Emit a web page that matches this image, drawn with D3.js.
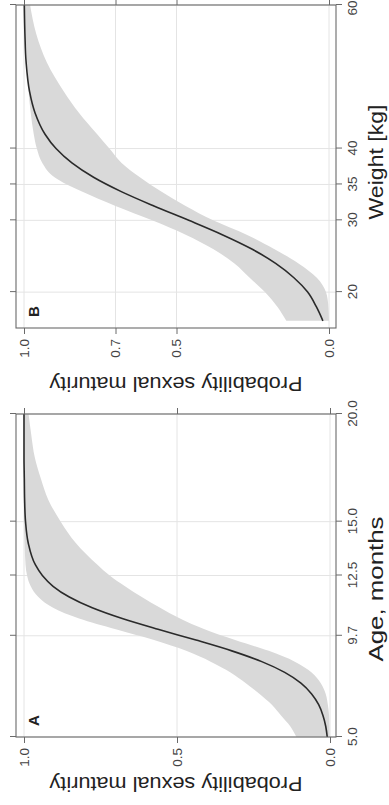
<!DOCTYPE html>
<html>
<head>
<meta charset="utf-8">
<script src="https://cdn.jsdelivr.net/npm/d3@7"></script>
<style>
  body { margin: 0; background: #fff; }
  svg { display: block; font-family: "Liberation Sans", Arial, sans-serif; }
</style>
</head>
<body>
<svg id="chart" width="389" height="805"></svg>
<script>
// Panel A: age in months
const ageValues = [5, 5.5, 6, 6.5, 7, 7.5, 8, 8.5, 9, 9.5, 10, 10.5, 11, 11.5, 12, 12.5, 13, 14, 15, 16, 17, 18, 19, 20];
const ageFit    = [0.009, 0.014, 0.023, 0.037, 0.06, 0.095, 0.148, 0.223, 0.321, 0.438, 0.562, 0.679, 0.777, 0.852, 0.905, 0.94, 0.963, 0.986, 0.995, 0.998, 0.999, 1, 1, 1];
const ageLower  = [0.001, 0.002, 0.003, 0.007, 0.014, 0.03, 0.06, 0.115, 0.2, 0.31, 0.41, 0.49, 0.555, 0.615, 0.67, 0.72, 0.76, 0.83, 0.88, 0.92, 0.945, 0.965, 0.976, 0.985];
const ageUpper  = [0.11, 0.13, 0.16, 0.19, 0.23, 0.275, 0.325, 0.39, 0.47, 0.575, 0.7, 0.82, 0.905, 0.953, 0.978, 0.99, 0.995, 0.998, 1, 1, 1, 1, 1, 1];
const ageTicks = [5, 9.7, 12.5, 15, 20];
const ageTickLabels = ["5.0", "9.7", "12.5", "15.0", "20.0"];
const probTicksA = [0, 0.5, 1];

// Panel B: weight in kg
const weightValues = [16, 18, 20, 22, 24, 26, 28, 30, 32, 34, 36, 38, 40, 42, 45, 48, 52, 56, 60];
const weightFit    = [0.02, 0.042, 0.07, 0.115, 0.175, 0.253, 0.35, 0.46, 0.574, 0.681, 0.772, 0.843, 0.895, 0.931, 0.964, 0.982, 0.993, 0.997, 0.999];
const weightLower  = [0, 0.002, 0.01, 0.04, 0.1, 0.18, 0.27, 0.38, 0.47, 0.55, 0.62, 0.68, 0.72, 0.76, 0.82, 0.87, 0.925, 0.96, 0.98];
const weightUpper  = [0.14, 0.17, 0.21, 0.26, 0.31, 0.38, 0.47, 0.58, 0.7, 0.81, 0.9, 0.94, 0.958, 0.968, 0.978, 0.985, 0.99, 0.995, 0.997];
const weightTicks = [20, 30, 35, 40, 60];
const weightTickLabels = ["20", "30", "35", "40", "60"];
const probTicksB = [0, 0.5, 0.7, 1];

const svg = d3.select('#chart');
// the figure is built upright and then turned a quarter turn to the left
const fig = svg.append('g').attr('transform', 'translate(0,805) rotate(-90)');

const frameTop = 16, frameBottom = 336;

function drawPanel(p) {
    const g = fig.append('g');
    const x = d3.scaleLinear().domain(p.xDomain).range(p.xRange);
    const y = d3.scaleLinear().domain([0, 1]).range(p.yRange);
    const rows = p.xs.map((v, i) => ({ v, fit: p.fit[i], lo: p.lower[i], hi: p.upper[i] }));

    // grid
    g.append('g').selectAll('line').data(p.xTicks).join('line')
        .attr('x1', d => x(d)).attr('x2', d => x(d))
        .attr('y1', frameTop).attr('y2', frameBottom)
        .attr('stroke', '#e4e4e4').attr('stroke-width', 1);
    g.append('g').selectAll('line').data(p.yTicks).join('line')
        .attr('x1', p.xRange[0]).attr('x2', p.xRange[1])
        .attr('y1', d => y(d)).attr('y2', d => y(d))
        .attr('stroke', '#e4e4e4').attr('stroke-width', 1);

    // confidence band
    g.append('path').datum(rows)
        .attr('fill', '#d9d9d9')
        .attr('d', d3.area().curve(d3.curveMonotoneX)
            .x(d => x(d.v)).y0(d => y(d.lo)).y1(d => y(d.hi)));

    // fitted curve
    g.append('path').datum(rows)
        .attr('fill', 'none').attr('stroke', '#2a2a2a').attr('stroke-width', 1.6)
        .attr('d', d3.line().curve(d3.curveMonotoneX).x(d => x(d.v)).y(d => y(d.fit)));

    // frame
    g.append('rect')
        .attr('x', p.xRange[0]).attr('y', frameTop)
        .attr('width', p.xRange[1] - p.xRange[0]).attr('height', frameBottom - frameTop)
        .attr('fill', 'none').attr('stroke', '#6a6a6a').attr('stroke-width', 1.1);

    // axes
    const bottom = g.append('g').attr('transform', `translate(0,${frameBottom})`)
        .call(d3.axisBottom(x).tickValues(p.xTicks).tickFormat((d, i) => p.xLabels[i])
            .tickSize(6).tickSizeOuter(0).tickPadding(5));
    const left = g.append('g').attr('transform', `translate(${p.xRange[0]},0)`)
        .call(d3.axisLeft(y).tickValues(p.yTicks).tickFormat(d3.format('.1f'))
            .tickSize(6).tickSizeOuter(0).tickPadding(5));
    const top = g.append('g').attr('transform', `translate(0,${frameTop})`)
        .call(d3.axisTop(x).tickValues(p.xTicks).tickFormat('').tickSize(6).tickSizeOuter(0));
    const right = g.append('g').attr('transform', `translate(${p.xRange[1]},0)`)
        .call(d3.axisRight(y).tickValues(p.yTicks).tickFormat('').tickSize(6).tickSizeOuter(0));

    [bottom, left, top, right].forEach(a => {
        a.select('.domain').remove();
        a.selectAll('line').attr('stroke', '#6a6a6a');
        a.selectAll('text').attr('fill', '#444').style('font-size', '13.5px').style('font-family', null);
    });

    // a label sitting on the very end of the page would be clipped: pull it inward
    bottom.selectAll('.tick text')
        .filter(d => x(d) > 795)
        .attr('text-anchor', 'end').attr('x', 805 - x.range()[1] - 1);

    // panel letter
    g.append('text')
        .attr('x', p.xRange[0] + 11).attr('y', frameTop + 23)
        .attr('font-size', 15).attr('font-weight', 'bold').attr('fill', '#222')
        .text(p.letter);

    // x title
    g.append('text')
        .attr('x', p.xTitleCenter).attr('y', 383)
        .attr('text-anchor', 'middle').attr('font-size', 20).attr('fill', '#222')
        .attr('textLength', p.xTitleLength).attr('lengthAdjust', 'spacingAndGlyphs')
        .text(p.xTitle);

    // y title
    g.append('text')
        .attr('transform', `translate(${p.yTitleX},176) rotate(-90)`)
        .attr('text-anchor', 'middle').attr('font-size', 20).attr('fill', '#222')
        .attr('textLength', 253).attr('lengthAdjust', 'spacingAndGlyphs')
        .text('Probability sexual maturity');
}

drawPanel({
    letter: 'A',
    xs: ageValues, fit: ageFit, lower: ageLower, upper: ageUpper,
    xDomain: [5, 20], xRange: [68, 391], yRange: [330, 24],
    xTicks: ageTicks, xLabels: ageTickLabels, yTicks: probTicksA,
    xTitle: 'Age, months', xTitleCenter: 216, xTitleLength: 145,
    yTitleX: 28
});

drawPanel({
    letter: 'B',
    xs: weightValues, fit: weightFit, lower: weightLower, upper: weightUpper,
    xDomain: [15, 60], xRange: [477, 800], yRange: [329, 24],
    xTicks: weightTicks, xLabels: weightTickLabels, yTicks: probTicksB,
    xTitle: 'Weight [kg]', xTitleCenter: 643, xTitleLength: 115,
    yTitleX: 428
});
</script>
</body>
</html>
